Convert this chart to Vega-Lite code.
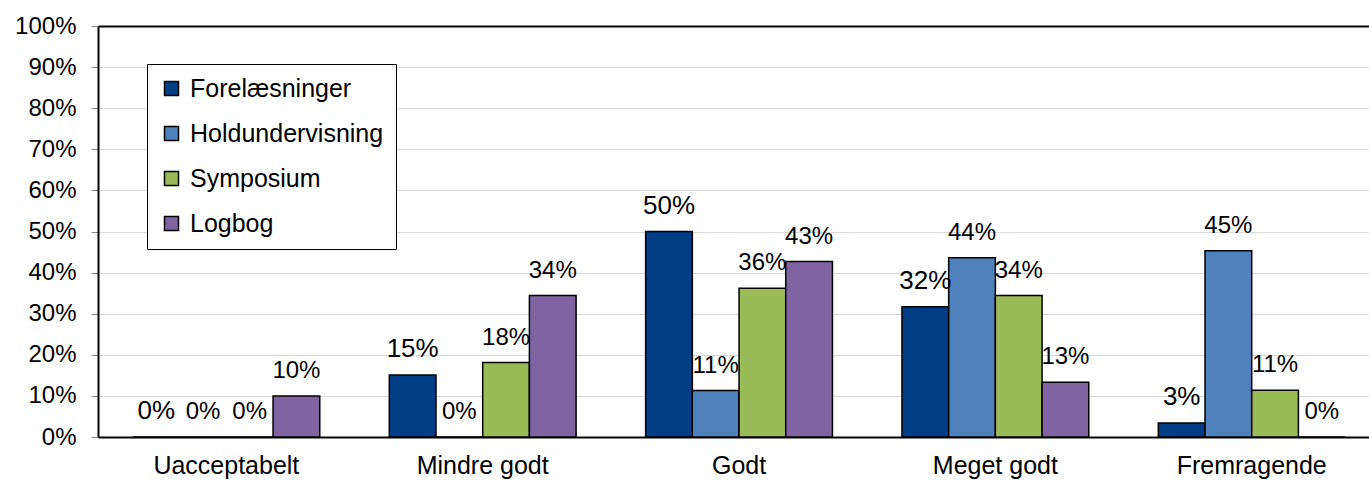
{
  "$schema": "https://vega.github.io/schema/vega-lite/v6.json",
  "autosize": {"type": "none"},
  "width": 1271,
  "height": 411,
  "padding": {"left": 98, "top": 26, "right": 0, "bottom": 45},
  "background": "white",
  "config": {
    "font": "Liberation Sans",
    "view": {"stroke": null},
    "axis": {"labelFont": "Liberation Sans", "labelColor": "black"}
  },
  "data": {
    "values": [
      {"cat": "Uacceptabelt", "serie": "Forelæsninger", "v": 0},
      {"cat": "Uacceptabelt", "serie": "Holdundervisning", "v": 0},
      {"cat": "Uacceptabelt", "serie": "Symposium", "v": 0},
      {"cat": "Uacceptabelt", "serie": "Logbog", "v": 0.10},
      {"cat": "Mindre godt", "serie": "Forelæsninger", "v": 0.151},
      {"cat": "Mindre godt", "serie": "Holdundervisning", "v": 0},
      {"cat": "Mindre godt", "serie": "Symposium", "v": 0.181},
      {"cat": "Mindre godt", "serie": "Logbog", "v": 0.344},
      {"cat": "Godt", "serie": "Forelæsninger", "v": 0.50},
      {"cat": "Godt", "serie": "Holdundervisning", "v": 0.113},
      {"cat": "Godt", "serie": "Symposium", "v": 0.362},
      {"cat": "Godt", "serie": "Logbog", "v": 0.427},
      {"cat": "Meget godt", "serie": "Forelæsninger", "v": 0.317},
      {"cat": "Meget godt", "serie": "Holdundervisning", "v": 0.436},
      {"cat": "Meget godt", "serie": "Symposium", "v": 0.344},
      {"cat": "Meget godt", "serie": "Logbog", "v": 0.133},
      {"cat": "Fremragende", "serie": "Forelæsninger", "v": 0.034},
      {"cat": "Fremragende", "serie": "Holdundervisning", "v": 0.453},
      {"cat": "Fremragende", "serie": "Symposium", "v": 0.114},
      {"cat": "Fremragende", "serie": "Logbog", "v": 0}
    ]
  },
  "encoding": {
    "x": {
      "field": "cat", "type": "nominal",
      "sort": ["Uacceptabelt", "Mindre godt", "Godt", "Meget godt", "Fremragende"],
      "scale": {"paddingInner": 0.2713, "paddingOuter": 0.1148, "align": 0.594},
      "axis": {"title": null, "labelAngle": 0, "labelFontSize": 25, "ticks": false, "labelPadding": 16, "domainColor": "black", "domainWidth": 2}
    },
    "xOffset": {
      "field": "serie", "type": "nominal",
      "sort": ["Forelæsninger", "Holdundervisning", "Symposium", "Logbog"],
      "scale": {"paddingInner": 0, "paddingOuter": 0}
    },
    "y": {
      "field": "v", "type": "quantitative",
      "scale": {"domain": [0, 1], "nice": false},
      "axis": {
        "title": null, "format": ".0%", "values": [0,0.1,0.2,0.3,0.4,0.5,0.6,0.7,0.8,0.9,1],
        "labelFontSize": 24, "tickSize": 7, "tickColor": "#888888", "labelPadding": 15,
        "gridColor": {"condition": {"test": "datum.value === 1", "value": "black"}, "value": "#D9D9D9"},
        "gridWidth": {"condition": {"test": "datum.value === 1", "value": 2}, "value": 1},
        "domain": true, "domainColor": "black", "domainWidth": 2
      }
    }
  },
  "layer": [
    {
      "mark": {"type": "bar", "stroke": "black", "strokeWidth": 1.5},
      "encoding": {
        "color": {
          "field": "serie", "type": "nominal",
          "sort": ["Forelæsninger", "Holdundervisning", "Symposium", "Logbog"],
          "scale": {"domain": ["Forelæsninger", "Holdundervisning", "Symposium", "Logbog"], "range": ["#003D85", "#4F81BD", "#9BBB59", "#8064A2"]},
          "legend": {
            "title": null, "orient": "none", "legendX": 49, "legendY": 38,
            "strokeColor": "black", "fillColor": "white", "padding": 12,
            "symbolType": "square", "symbolSize": 196, "symbolStrokeColor": "black", "symbolStrokeWidth": 1.5,
            "labelFontSize": 25, "labelFont": "Liberation Sans", "labelColor": "black", "labelOffset": 6, "labelLimit": 400,
            "rowPadding": 19
          }
        }
      }
    },
    {
      "mark": {"type": "text", "baseline": "alphabetic", "dy": -18, "font": "Liberation Sans", "color": "black"},
      "encoding": {
        "text": {"field": "v", "type": "quantitative", "format": ".0%"},
        "size": {"condition": {"test": "datum.serie === 'Forelæsninger'", "value": 26}, "value": 24}
      }
    }
  ]
}
